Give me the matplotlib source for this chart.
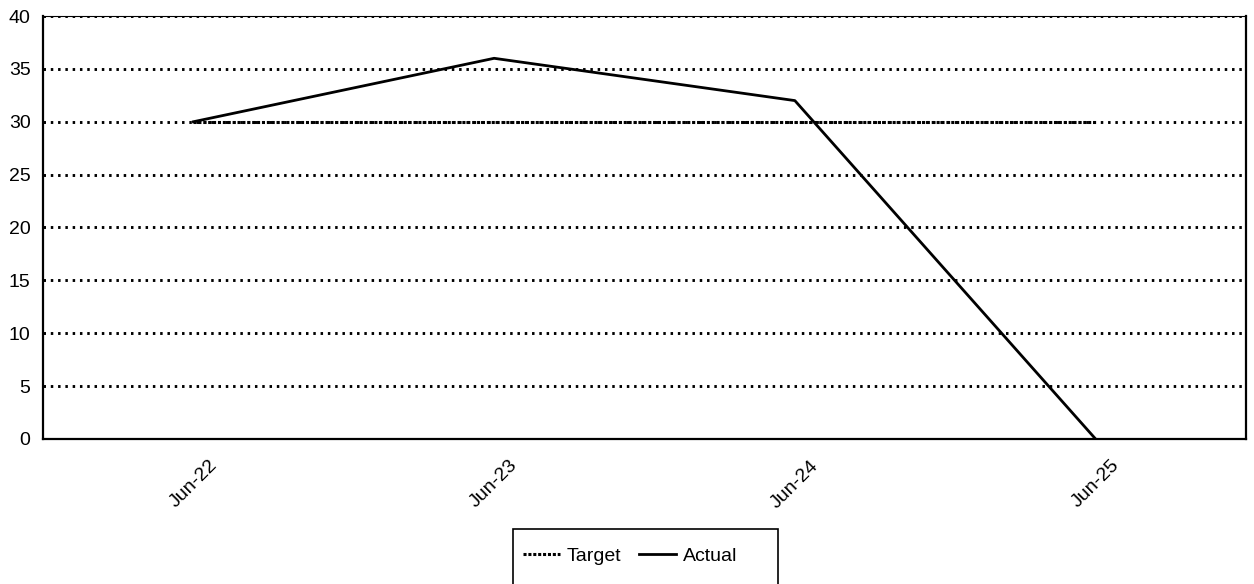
import matplotlib.pyplot as plt
from matplotlib.patches import Rectangle

plt.rcParams["font.family"] = ["Liberation Sans", "DejaVu Sans"]

meses = ["Jun-22", "Jun-23", "Jun-24", "Jun-25"]
meta = [30, 30, 30, 30]
realizado = [30, 36, 32, 0]
ticks_y = [0, 5, 10, 15, 20, 25, 30, 35, 40]

fig = plt.figure(figsize=(12.54, 5.84), dpi=100)
ax = fig.add_axes([0.0343, 0.2483, 0.9593, 0.7243])

x = list(range(len(meses)))

# linhas de grade pontilhadas, como no Excel
for v in ticks_y:
    ax.axhline(v, color="black", lw=2.1, linestyle=(0, (0.85, 1.65)), zorder=1)

ax.plot(x, meta, color="black", lw=2.2, linestyle=(0, (1, 0.6)), label="Target", zorder=2)
ax.plot(x, realizado, color="black", lw=2, label="Actual", zorder=3)

ax.set_xlim(-0.5, len(meses) - 0.5)
ax.set_ylim(0, 40)
ax.set_yticks(ticks_y)
ax.set_xticks(x)
ax.set_xticklabels(meses, rotation=45, ha="center", fontsize=14)
ax.tick_params(axis="both", length=0)
ax.tick_params(axis="y", pad=9, labelsize=14)
ax.tick_params(axis="x", pad=13)
for rotulo in ax.get_xticklabels():
    rotulo.set_x(rotulo.get_position()[0] - 0.02)

for lado in ["left", "bottom", "right"]:
    ax.spines[lado].set_linewidth(1.6)
ax.spines["top"].set_linewidth(0.8)

# legenda sem moldura + caixa desenhada à parte
fig.legend(loc="center left", bbox_to_anchor=(523 / 1254, 1 - 556 / 584), ncol=2,
           frameon=False, fontsize=14, handlelength=1.9, handletextpad=0.35,
           columnspacing=0.9, borderpad=0, borderaxespad=0)
fig.patches.append(Rectangle((513 / 1254, -0.02), 265 / 1254, 0.02 + 55 / 584,
                             transform=fig.transFigure, fill=False,
                             edgecolor="black", lw=1.2))

plt.savefig("out.png", dpi=100)
